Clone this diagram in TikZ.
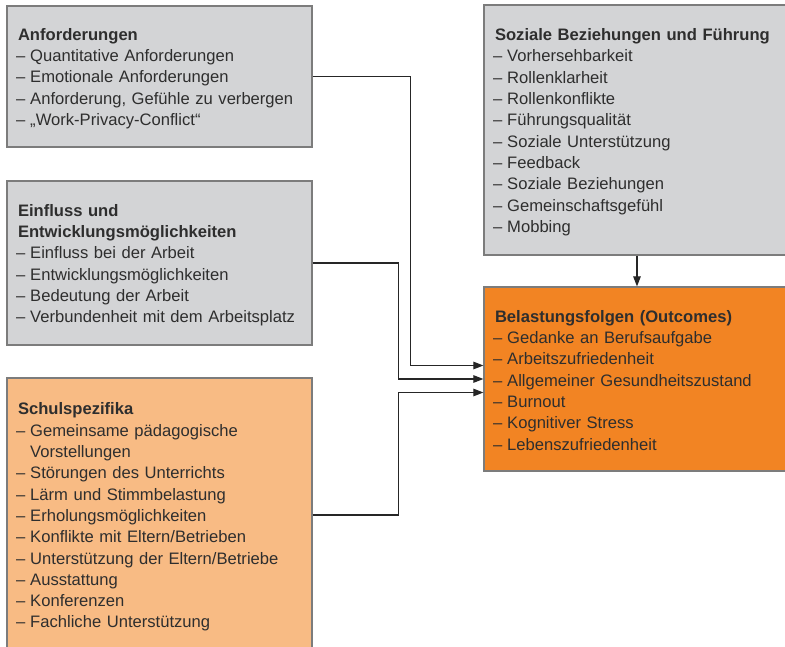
\documentclass[tikz,border=0pt]{standalone}
\usepackage{fontspec}
\setmainfont{Liberation Sans}
\usetikzlibrary{arrows.meta,calc}
\definecolor{boxgray}{HTML}{D3D4D6}
\definecolor{lightorange}{HTML}{F8BB84}
\definecolor{darkorange}{HTML}{F28423}
\definecolor{edgegray}{HTML}{7C7C7C}
\definecolor{txt}{HTML}{2E2E2E}
\newcommand{\itm}{\hspace*{-1.8pt}–\hspace{4.8pt}}
\newcommand{\topstrut}{\rule{0pt}{16.4pt}}
\begin{document}
\begin{tikzpicture}[x=1pt,y=-1pt,
  box/.style={draw=edgegray, line width=1.2pt, align=left, anchor=center,
    inner xsep=11pt, inner ysep=0pt, text=txt,
    font=\fontsize{16.6}{21.3}\selectfont},
  leftbox/.style={box, minimum width=305pt, text width=283pt},
  rightbox/.style={box, minimum width=306pt, text width=284pt},
  conn/.style={draw=black!85, line width=1.1pt, -{Triangle[length=10pt,width=7.5pt]}}
]
\clip (0,0) rectangle (785,646);
\fill[white] (0,0) rectangle (785,646);

\node[leftbox, fill=boxgray, minimum height=141pt] (anf) at (159.5,76.5)
 {\topstrut\textbf{Anforderungen}\\
  \itm Quantitative Anforderungen\\
  \itm Emotionale Anforderungen\\
  \itm Anforderung, Gefühle zu verbergen\\
  \itm „Work-Privacy-Conflict“};

\node[leftbox, fill=boxgray, minimum height=164pt] (einf) at (159.5,263)
 {\topstrut\textbf{Einfluss und}\\
  \textbf{Entwicklungsmöglichkeiten}\\
  \itm Einfluss bei der Arbeit\\
  \itm Entwicklungsmöglichkeiten\\
  \itm Bedeutung der Arbeit\\
  \itm Verbundenheit mit dem Arbeitsplatz};

\node[leftbox, fill=lightorange, minimum height=274pt] (schul) at (159.5,515)
 {\topstrut\textbf{Schulspezifika}\\
  \itm Gemeinsame pädagogische\\
  \phantom{–}\hspace{3pt}Vorstellungen\\
  \itm Störungen des Unterrichts\\
  \itm Lärm und Stimmbelastung\\
  \itm Erholungsmöglichkeiten\\
  \itm Konflikte mit Eltern/Betrieben\\
  \itm Unterstützung der Eltern/Betriebe\\
  \itm Ausstattung\\
  \itm Konferenzen\\
  \itm Fachliche Unterstützung};

\node[rightbox, fill=boxgray, minimum height=250pt] (soz) at (637,130)
 {\topstrut\textbf{Soziale Beziehungen und Führung}\\
  \itm Vorhersehbarkeit\\
  \itm Rollenklarheit\\
  \itm Rollenkonflikte\\
  \itm Führungsqualität\\
  \itm Soziale Unterstützung\\
  \itm Feedback\\
  \itm Soziale Beziehungen\\
  \itm Gemeinschaftsgefühl\\
  \itm Mobbing};

\node[rightbox, fill=darkorange, minimum height=184pt] (bel) at (637,379)
 {\rule{0pt}{14.6pt}\textbf{Belastungsfolgen (Outcomes)}\\
  \itm Gedanke an Berufsaufgabe\\
  \itm Arbeitszufriedenheit\\
  \itm Allgemeiner Gesundheitszustand\\
  \itm Burnout\\
  \itm Kognitiver Stress\\
  \itm Lebenszufriedenheit};

\coordinate (b1) at ($(bel.west)+(0,-13.5)$);
\coordinate (b2) at (bel.west);
\coordinate (b3) at ($(bel.west)+(0,13.5)$);

\draw[conn] (anf.east) -- ++(98,0) |- (b1);
\draw[conn] (einf.east) -- ++(86,0) |- (b2);
\draw[conn] (schul.east) -- ++(86,0) |- (b3);
\draw[conn] (soz.south) -- (bel.north);
\end{tikzpicture}
\end{document}
